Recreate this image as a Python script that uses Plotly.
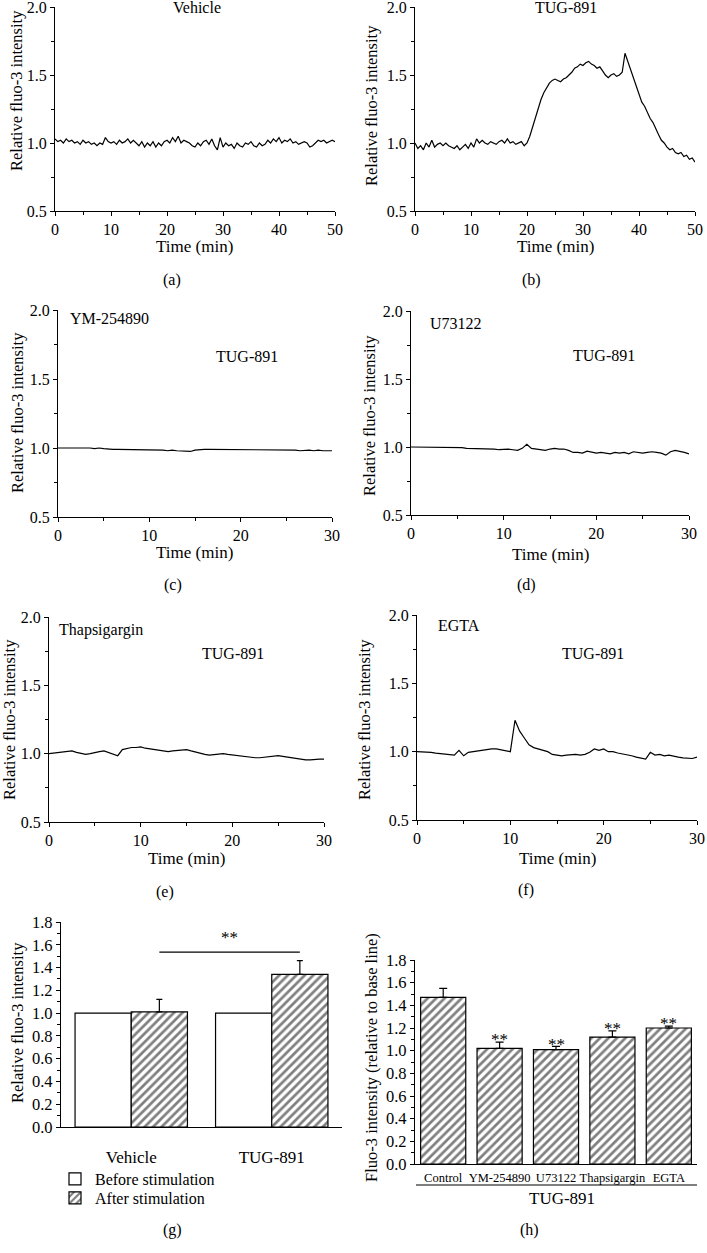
import numpy as np
import plotly.graph_objects as go

W, H = 707, 1253
FONT = "Liberation Serif, Times New Roman, serif"

# ---------------- data ----------------
vehicle_trace = [1.03,1.01,1.02,1.0,1.03,1.01,1.02,1.0,1.01,0.99,1.02,1.0,1.01,0.99,1.0,0.98,1.0,0.99,1.04,1.01,
                 1.0,1.01,0.99,1.02,1.0,1.01,1.03,1.0,1.02,1.0,0.98,1.01,0.97,1.0,0.98,1.01,0.97,1.0,0.98,1.01,
                 1.02,1.0,1.04,1.01,1.05,1.0,1.02,1.01,1.0,0.98,0.97,1.0,0.98,1.01,1.02,0.99,1.03,0.98,0.95,1.04,
                 0.97,1.0,0.98,0.99,0.96,1.0,0.98,0.97,1.0,0.99,1.01,0.98,0.97,1.0,0.98,0.99,1.02,1.0,1.03,1.01,
                 1.04,1.0,1.02,1.01,1.03,1.0,1.01,0.99,1.0,1.01,1.0,0.97,0.98,1.0,1.02,1.01,1.02,1.0,1.01,1.02,1.01]
tug_trace = [1.0,0.96,0.98,0.95,1.0,0.97,1.02,0.97,0.99,1.0,0.98,1.0,0.98,0.97,0.96,0.98,0.95,0.97,0.99,0.96,1.0,
             0.97,1.03,1.0,1.02,1.0,0.99,1.01,1.0,0.99,1.01,1.02,1.0,1.03,1.0,1.01,0.99,1.0,1.01,0.98,1.0,
             1.05,1.12,1.18,1.25,1.32,1.37,1.41,1.44,1.46,1.47,1.46,1.45,1.47,1.48,1.5,1.52,1.55,1.56,1.58,1.57,
             1.59,1.6,1.58,1.57,1.55,1.56,1.53,1.5,1.48,1.5,1.51,1.49,1.5,1.52,1.66,1.6,1.55,1.48,1.42,1.36,
             1.3,1.27,1.22,1.18,1.15,1.1,1.06,1.02,1.0,0.97,0.95,0.96,0.93,0.92,0.93,0.9,0.91,0.88,0.89,0.86]
ym_trace = [1.0,1.0,1.0,1.0,1.005,1.0,1.0,1.0,0.995,1.0,0.995,
            0.99,0.99,0.99,0.99,0.99,0.985,0.99,0.99,0.985,0.985,
            0.985,0.985,0.985,0.98,0.985,0.98,0.98,0.98,0.975,0.985,
            0.99,0.99,0.99,0.99,0.99,0.99,0.99,0.985,0.985,0.985,
            0.985,0.985,0.985,0.985,0.985,0.985,0.985,0.99,0.985,0.99,
            0.985,0.985,0.98,0.985,0.985,0.98,0.985,0.98,0.98,0.98]
u73_trace = [1.0,1.0,1.0,0.995,1.0,1.0,1.0,1.0,1.0,1.0,1.0,
             0.995,0.99,0.99,0.99,0.985,0.985,0.985,0.985,0.98,0.985,
             0.985,0.98,0.975,0.99,1.02,0.99,0.985,0.98,0.975,0.985,
             0.99,0.985,0.985,0.975,0.96,0.96,0.955,0.97,0.96,0.955,
             0.96,0.955,0.95,0.96,0.955,0.96,0.95,0.965,0.96,0.955,
             0.96,0.965,0.96,0.955,0.94,0.965,0.975,0.97,0.96,0.95]
thaps_trace = [1.0,1.005,1.01,1.015,1.02,1.02,1.01,1.0,0.995,1.0,1.01,
               1.015,1.02,1.01,1.0,0.985,1.03,1.04,1.045,1.045,1.05,
               1.04,1.035,1.03,1.02,1.015,1.015,1.02,1.025,1.03,1.03,
               1.02,1.01,1.0,0.995,0.99,0.995,0.995,1.0,0.995,0.99,
               0.99,0.985,0.98,0.975,0.97,0.97,0.975,0.98,0.985,0.985,
               0.98,0.975,0.965,0.96,0.955,0.955,0.955,0.96,0.96,0.96]
egta_trace = [1.0,1.0,1.0,0.995,0.99,0.985,0.985,0.98,0.975,1.01,0.97,
              0.995,1.0,1.005,1.01,1.02,1.02,1.02,1.015,1.005,1.0,
              1.23,1.15,1.1,1.05,1.03,1.02,1.01,1.0,0.98,0.975,
              0.97,0.975,0.98,0.98,0.975,0.98,0.995,1.02,1.01,1.02,
              1.0,1.0,0.99,0.985,0.98,0.97,0.96,0.955,0.945,0.995,
              0.975,0.98,0.97,0.975,0.965,0.96,0.955,0.95,0.95,0.96]

g_groups = ["Vehicle", "TUG-891"]
g_before = [1.0, 1.0]
g_after = [1.01, 1.34]
g_after_err = [0.11, 0.12]

h_groups = ["Control", "YM-254890", "U73122", "Thapsigargin", "EGTA"]
h_values = [1.47, 1.02, 1.01, 1.12, 1.20]
h_err = [0.08, 0.055, 0.028, 0.054, 0.017]
h_sig = ["", "**", "**", "**", "**"]

# ---------------- layout helpers ----------------
def xd(a, b):
    return [a / W, b / W]

def yd(top, bot):
    return [1 - bot / H, 1 - top / H]

def px(x):
    return x / W

def py(y):
    return 1 - y / H

fig = go.Figure()

line_panels = [
    (vehicle_trace, 50, (55, 335, 7, 211)),
    (tug_trace, 50, (415, 695, 7, 211)),
    (ym_trace, 30, (58, 332, 310, 517)),
    (u73_trace, 30, (411, 689, 311, 515)),
    (thaps_trace, 30, (49, 324, 617, 822)),
    (egta_trace, 30, (417, 697, 615, 820)),
]

axis_common = dict(showline=True, linecolor="black", linewidth=1.3, showgrid=False, zeroline=False,
                   automargin=False, ticklabeloverflow="allow",
                   ticks="outside", ticklen=4, tickwidth=1.2, tickcolor="black",
                   tickfont=dict(family=FONT, size=16, color="black"))

layout = {}
for i, (vals, tmax, (l, r, t, b)) in enumerate(line_panels, start=1):
    tt = np.linspace(0, tmax, len(vals))
    fig.add_trace(go.Scatter(x=tt, y=vals, mode="lines", line=dict(color="black", width=1.2),
                             xaxis=f"x{i}", yaxis=f"y{i}", showlegend=False, hoverinfo="skip"))
    layout[f"xaxis{i}"] = dict(axis_common, domain=xd(l, r), anchor=f"y{i}", range=[0, tmax],
                               tick0=0, dtick=10, minor=dict(ticks="outside", ticklen=3, dtick=5,
                                                             tickcolor="black", tickwidth=1))
    layout[f"yaxis{i}"] = dict(axis_common, domain=yd(t, b), anchor=f"x{i}", range=[0.5, 2.0],
                               tickvals=[0.5, 1.0, 1.5, 2.0], ticktext=["0.5", "1.0", "1.5", "2.0"],
                               minor=dict(ticks="outside", ticklen=3, tickvals=[0.75, 1.25, 1.75],
                                          tickcolor="black", tickwidth=1))

hatch = dict(shape="/", fgcolor="black", bgcolor="white", size=6, solidity=0.45)

# ---------------- panel g ----------------
fig.add_trace(go.Bar(x=g_groups, y=g_before, name="Before stimulation",
                     marker=dict(color="white", line=dict(color="black", width=1.2)),
                     xaxis="x7", yaxis="y7", legend="legend"))
fig.add_trace(go.Bar(x=g_groups, y=g_after, name="After stimulation",
                     marker=dict(color="white", line=dict(color="black", width=1.2), pattern=hatch),
                     error_y=dict(type="data", array=g_after_err, arrayminus=[0] * len(g_after_err),
                                  symmetric=False, color="black", thickness=1.2, width=3),
                     xaxis="x7", yaxis="y7", legend="legend2"))
layout["xaxis7"] = dict(showline=True, linecolor="black", linewidth=1.3, showgrid=False, zeroline=False,
                        automargin=False,
                        domain=xd(61, 342), anchor="y7", range=[-0.5, 1.5], type="category",
                        ticks="outside", ticklen=14, tickcolor="rgba(0,0,0,0)",
                        tickfont=dict(family=FONT, size=17, color="black"))
layout["yaxis7"] = dict(axis_common, domain=yd(922, 1127), anchor="x7", range=[0, 1.8],
                        tickvals=[0, 0.2, 0.4, 0.6, 0.8, 1.0, 1.2, 1.4, 1.6, 1.8],
                        ticktext=["0.0", "0.2", "0.4", "0.6", "0.8", "1.0", "1.2", "1.4", "1.6", "1.8"],
                        minor=dict(ticks="outside", ticklen=3, dtick=0.1, tickcolor="black", tickwidth=1),
                        tickfont=dict(family=FONT, size=16.5, color="black"))

# ---------------- panel h ----------------
fig.add_trace(go.Bar(x=h_groups, y=h_values, showlegend=False,
                     marker=dict(color="white", line=dict(color="black", width=1.2), pattern=hatch),
                     error_y=dict(type="data", array=h_err, arrayminus=[0] * len(h_err),
                                  symmetric=False, color="black", thickness=1.2, width=4),
                     xaxis="x8", yaxis="y8"))
layout["xaxis8"] = dict(showline=True, linecolor="black", linewidth=1.3, showgrid=False, zeroline=False,
                        automargin=False,
                        domain=xd(415, 697), anchor="y8", range=[-0.5, 4.5], type="category",
                        ticks="outside", ticklen=2, tickcolor="rgba(0,0,0,0)",
                        tickfont=dict(family=FONT, size=12.5, color="black"))
layout["yaxis8"] = dict(axis_common, domain=yd(960, 1164), anchor="x8", range=[0, 1.8],
                        tickvals=[0, 0.2, 0.4, 0.6, 0.8, 1.0, 1.2, 1.4, 1.6, 1.8],
                        ticktext=["0.0", "0.2", "0.4", "0.6", "0.8", "1.0", "1.2", "1.4", "1.6", "1.8"],
                        minor=dict(ticks="outside", ticklen=3, dtick=0.1, tickcolor="black", tickwidth=1),
                        tickfont=dict(family=FONT, size=16.5, color="black"))

annotations = []

def ann(text, x, y, size=16, xanchor="center", angle=0):
    annotations.append(dict(text=text, x=px(x), y=py(y), xref="paper", yref="paper", showarrow=False,
                            xanchor=xanchor, yanchor="middle", textangle=angle,
                            font=dict(family=FONT, size=size, color="black")))

# panel titles / inner labels
ann("Vehicle", 197, 8)
ann("TUG-891", 566, 8)
ann("YM-254890", 68, 318, xanchor="left")
ann("TUG-891", 247, 357)
ann("U73122", 428, 323, xanchor="left")
ann("TUG-891", 604, 355)
ann("Thapsigargin", 57, 630, xanchor="left")
ann("TUG-891", 233, 653)
ann("EGTA", 436, 625, xanchor="left")
ann("TUG-891", 593, 653)

# x titles
for (x, y) in [(195, 247), (555, 247), (195, 553), (550, 555), (187, 858), (557, 858)]:
    ann("Time (min)", x, y, size=17)

# y titles
for (x, y) in [(17, 91), (372, 106), (17, 413), (369, 416), (9, 720), (364, 720), (17, 1023)]:
    ann("Relative fluo-3 intensity", x, y, size=16.5, angle=-90)
ann("Fluo-3 intensity (relative to base line)", 371, 1058, size=16.5, angle=-90)

# captions
for lab, x, y in [("(a)", 172, 280), ("(b)", 531, 280), ("(c)", 173, 585), ("(d)", 526, 585),
                  ("(e)", 165, 892), ("(f)", 526, 890), ("(g)", 172, 1230), ("(h)", 529, 1230)]:
    ann(lab, x, y, size=16)

# significance in g
sig_y = 1.536
annotations.append(dict(text="**", x=0.7, y=sig_y + 0.03, xref="x7", yref="y7", showarrow=False,
                        yanchor="bottom", font=dict(family=FONT, size=17, color="black")))
# significance in h
for cat, v, e, s in zip(h_groups, h_values, h_err, h_sig):
    if s:
        annotations.append(dict(text=s, x=cat, y=v + e + 0.02, xref="x8", yref="y8", showarrow=False,
                                yanchor="middle", font=dict(family=FONT, size=17, color="black")))
# h group label
ann("TUG-891", 562, 1198, size=17)

shapes = [
    dict(type="line", xref="x7", yref="y7", x0=0.2, x1=1.2, y0=sig_y, y1=sig_y,
         line=dict(color="black", width=1.2)),
    dict(type="line", xref="paper", yref="paper", x0=px(416), x1=px(697), y0=py(1185), y1=py(1185),
         line=dict(color="black", width=1.2)),
]

leg_common = dict(xanchor="left", yanchor="middle", font=dict(family=FONT, size=16, color="black"),
                  bgcolor="rgba(0,0,0,0)", itemwidth=30)

fig.update_layout(
    width=W, height=H, margin=dict(l=0, r=0, t=0, b=0, autoexpand=False),
    paper_bgcolor="white", plot_bgcolor="white",
    barmode="group", bargap=0.2,
    annotations=annotations, shapes=shapes,
    legend=dict(leg_common, x=px(55), y=py(1179)),
    legend2=dict(leg_common, x=px(55), y=py(1198)),
    **layout,
)

fig.write_html("out.html", config={"displayModeBar": False},
               post_script="document.body.style.margin='0';document.body.style.overflow='hidden';")
